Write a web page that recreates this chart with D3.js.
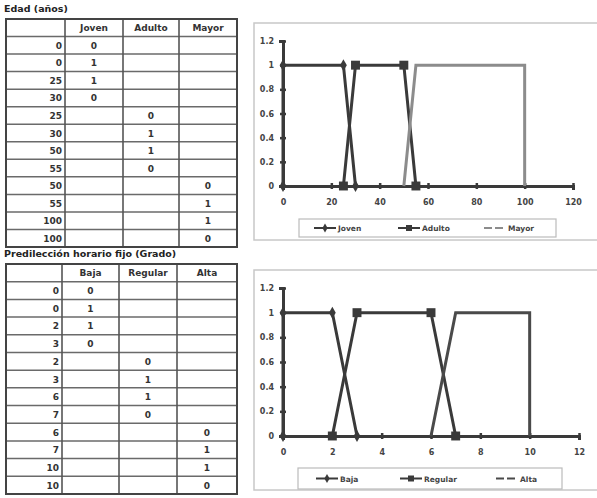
<!DOCTYPE html>
<html><head><meta charset="utf-8">
<script src="https://cdn.jsdelivr.net/npm/d3@7/dist/d3.min.js"></script>
<style>body{margin:0;background:#fff}svg{display:block}</style>
</head><body>
<script>
// ---- data ----
const edadTitle = "Edad (años)";
const edadNames = ["Joven","Adulto","Mayor"];
const jovenX = [0,0,25,30],   jovenY = [0,1,1,0];
const adultoX = [25,30,50,55], adultoY = [0,1,1,0];
const mayorX = [50,55,100,100], mayorY = [0,1,1,0];
const edadXTicks = [0,20,40,60,80,100,120];

const horTitle = "Predilección horario fijo (Grado)";
const horNames = ["Baja","Regular","Alta"];
const bajaX = [0,0,2,3],     bajaY = [0,1,1,0];
const regularX = [2,3,6,7],  regularY = [0,1,1,0];
const altaX = [6,7,10,10],   altaY = [0,1,1,0];
const horXTicks = [0,2,4,6,8,10,12];

const yTicks = [0,0.2,0.4,0.6,0.8,1,1.2];

const W = 597, H = 498;
const svg = d3.select("body").append("svg").attr("width", W).attr("height", H);
const dark = "#3a3a3a", gray = "#8c8c8c";
const font = "DejaVu Sans";

function drawTable(cfg){
  const {title, names, series, top, colEdges, titleY} = cfg;
  const g = svg.append("g");
  g.append("text").attr("x", 4).attr("y", titleY).text(title)
    .attr("font-family", font).attr("font-weight", "bold").attr("font-size", 9.5).attr("fill", "#222");
  const rows = [];
  series.forEach((s, si) => s.x.forEach((xv, i) => rows.push({key: xv, col: si, val: s.y[i]})));
  const nRows = rows.length + 1;
  const bottom = cfg.bottom;
  const y = d3.scaleLinear().domain([0, nRows]).range([top, bottom]);
  // inner horizontal lines
  for (let r = 1; r < nRows; r++) {
    g.append("line").attr("x1", colEdges[0]).attr("x2", colEdges[colEdges.length-1])
      .attr("y1", y(r)).attr("y2", y(r)).attr("stroke", "#6a6a6a").attr("stroke-width", 1.5);
  }
  for (let c = 1; c < colEdges.length - 1; c++) {
    g.append("line").attr("x1", colEdges[c]).attr("x2", colEdges[c])
      .attr("y1", top).attr("y2", bottom).attr("stroke", "#555").attr("stroke-width", 1.6);
  }
  g.append("rect").attr("x", colEdges[0]).attr("y", top)
    .attr("width", colEdges[colEdges.length-1] - colEdges[0]).attr("height", bottom - top)
    .attr("fill", "none").attr("stroke", "#444").attr("stroke-width", 2);
  // header
  names.forEach((n, i) => {
    g.append("text").attr("x", (colEdges[i+1] + colEdges[i+2]) / 2).attr("y", y(0.5) + 3.5)
      .attr("text-anchor", "middle").text(n)
      .attr("font-family", font).attr("font-weight", "bold").attr("font-size", 9).attr("fill", "#333");
  });
  rows.forEach((r, i) => {
    const cy = y(i + 1.5) + 3.5;
    g.append("text").attr("x", colEdges[1] - 3).attr("y", cy).attr("text-anchor", "end").text(r.key)
      .attr("font-family", font).attr("font-weight", "bold").attr("font-size", 9).attr("fill", "#333");
    g.append("text").attr("x", (colEdges[r.col+1] + colEdges[r.col+2]) / 2).attr("y", cy)
      .attr("text-anchor", "middle").text(r.val)
      .attr("font-family", font).attr("font-weight", "bold").attr("font-size", 9).attr("fill", "#333");
  });
}

drawTable({title: edadTitle, names: edadNames, titleY: 12, top: 19, bottom: 247,
  colEdges: [6, 65, 123, 179, 237],
  series: [{x: jovenX, y: jovenY}, {x: adultoX, y: adultoY}, {x: mayorX, y: mayorY}]});
drawTable({title: horTitle, names: horNames, titleY: 257, top: 264, bottom: 494,
  colEdges: [6, 62, 119, 177, 237],
  series: [{x: bajaX, y: bajaY}, {x: regularX, y: regularY}, {x: altaX, y: altaY}]});

function drawChart(cfg){
  const {box, xDomain, xRange, yRange, xTicks, series, legend} = cfg;
  const g = svg.append("g");
  g.append("rect").attr("x", box[0]).attr("y", box[1]).attr("width", box[2]).attr("height", box[3])
    .attr("fill", "#fff").attr("stroke", "#c8c8c8").attr("stroke-width", 1.5);
  const x = d3.scaleLinear().domain(xDomain).range(xRange);
  const y = d3.scaleLinear().domain([0, 1.2]).range(yRange);
  // axes
  const xa = g.append("g").attr("transform", `translate(0,${y(0)})`)
    .call(d3.axisBottom(x).tickValues(xTicks).tickSize(4).tickPadding(9).tickFormat(d3.format("d")));
  xa.select(".domain").attr("stroke", dark).attr("stroke-width", 3);
  xa.selectAll(".tick line").attr("stroke", dark).attr("stroke-width", 2.5).attr("y1", -3).attr("y2", 3);
  xa.selectAll("text").attr("font-family", font).attr("font-weight", "bold").attr("font-size", 8).attr("fill", "#444");
  const ya = g.append("g").attr("transform", `translate(${x(0)},0)`)
    .call(d3.axisLeft(y).tickValues(yTicks).tickSize(4).tickPadding(5).tickFormat(d => d === 0 || d === 1 ? d3.format("d")(d) : d3.format(".1f")(d)));
  ya.select(".domain").attr("stroke", dark).attr("stroke-width", 3);
  ya.selectAll(".tick line").attr("stroke", dark).attr("stroke-width", 2.5).attr("x1", -3).attr("x2", 3);
  ya.selectAll("text").attr("font-family", font).attr("font-weight", "bold").attr("font-size", 8).attr("fill", "#444");

  const line = d3.line().x(d => x(d[0])).y(d => y(d[1]));
  series.forEach(s => {
    const pts = s.x.map((v, i) => [v, s.y[i]]);
    g.append("path").attr("d", line(pts)).attr("fill", "none").attr("stroke", s.color)
      .attr("stroke-width", 3).attr("stroke-linejoin", "miter");
    if (s.marker) {
      const sym = d3.symbol().type(s.marker === "square" ? d3.symbolSquare : d3.symbolDiamond)
        .size(s.marker === "square" ? 80 : 40);
      g.selectAll(null).data(pts).join("path").attr("d", sym)
        .attr("transform", d => `translate(${x(d[0])},${y(d[1])})`).attr("fill", s.color);
    }
  });
  // legend
  const lg = g.append("g");
  lg.append("rect").attr("x", legend.box[0]).attr("y", legend.box[1]).attr("width", legend.box[2]).attr("height", legend.box[3])
    .attr("fill", "#fff").attr("stroke", "#bbb").attr("stroke-width", 1.2);
  const cy = legend.box[1] + legend.box[3] / 2;
  series.forEach((s, i) => {
    const lx = legend.xs[i];
    lg.append("line").attr("x1", lx).attr("x2", lx + 22).attr("y1", cy).attr("y2", cy)
      .attr("stroke", s.color).attr("stroke-width", 2).attr("stroke-dasharray", s.marker ? null : "8,3");
    if (s.marker) {
      const sym = d3.symbol().type(s.marker === "square" ? d3.symbolSquare : d3.symbolDiamond)
        .size(s.marker === "square" ? 36 : 24);
      lg.append("path").attr("d", sym).attr("transform", `translate(${lx + 11},${cy})`).attr("fill", s.color);
    }
    lg.append("text").attr("x", lx + 24).attr("y", cy + 3).text(s.name)
      .attr("font-family", font).attr("font-weight", "bold").attr("font-size", 7.5).attr("fill", "#444");
  });
}

drawChart({box: [254, 23, 350, 217], xDomain: [0, 120], xRange: [283, 573], yRange: [186, 41],
  xTicks: edadXTicks,
  series: [
    {name: edadNames[0], x: jovenX, y: jovenY, color: dark, marker: "diamond"},
    {name: edadNames[1], x: adultoX, y: adultoY, color: dark, marker: "square"},
    {name: edadNames[2], x: mayorX, y: mayorY, color: gray, marker: null}],
  legend: {box: [299, 219, 257, 18], xs: [314, 398, 484]}});

drawChart({box: [254, 270, 350, 220], xDomain: [0, 12], xRange: [283, 579], yRange: [436, 288],
  xTicks: horXTicks,
  series: [
    {name: horNames[0], x: bajaX, y: bajaY, color: dark, marker: "diamond"},
    {name: horNames[1], x: regularX, y: regularY, color: dark, marker: "square"},
    {name: horNames[2], x: altaX, y: altaY, color: "#4a4a4a", marker: null}],
  legend: {box: [298, 468, 264, 21], xs: [316, 400, 496]}});
</script>
</body></html>
